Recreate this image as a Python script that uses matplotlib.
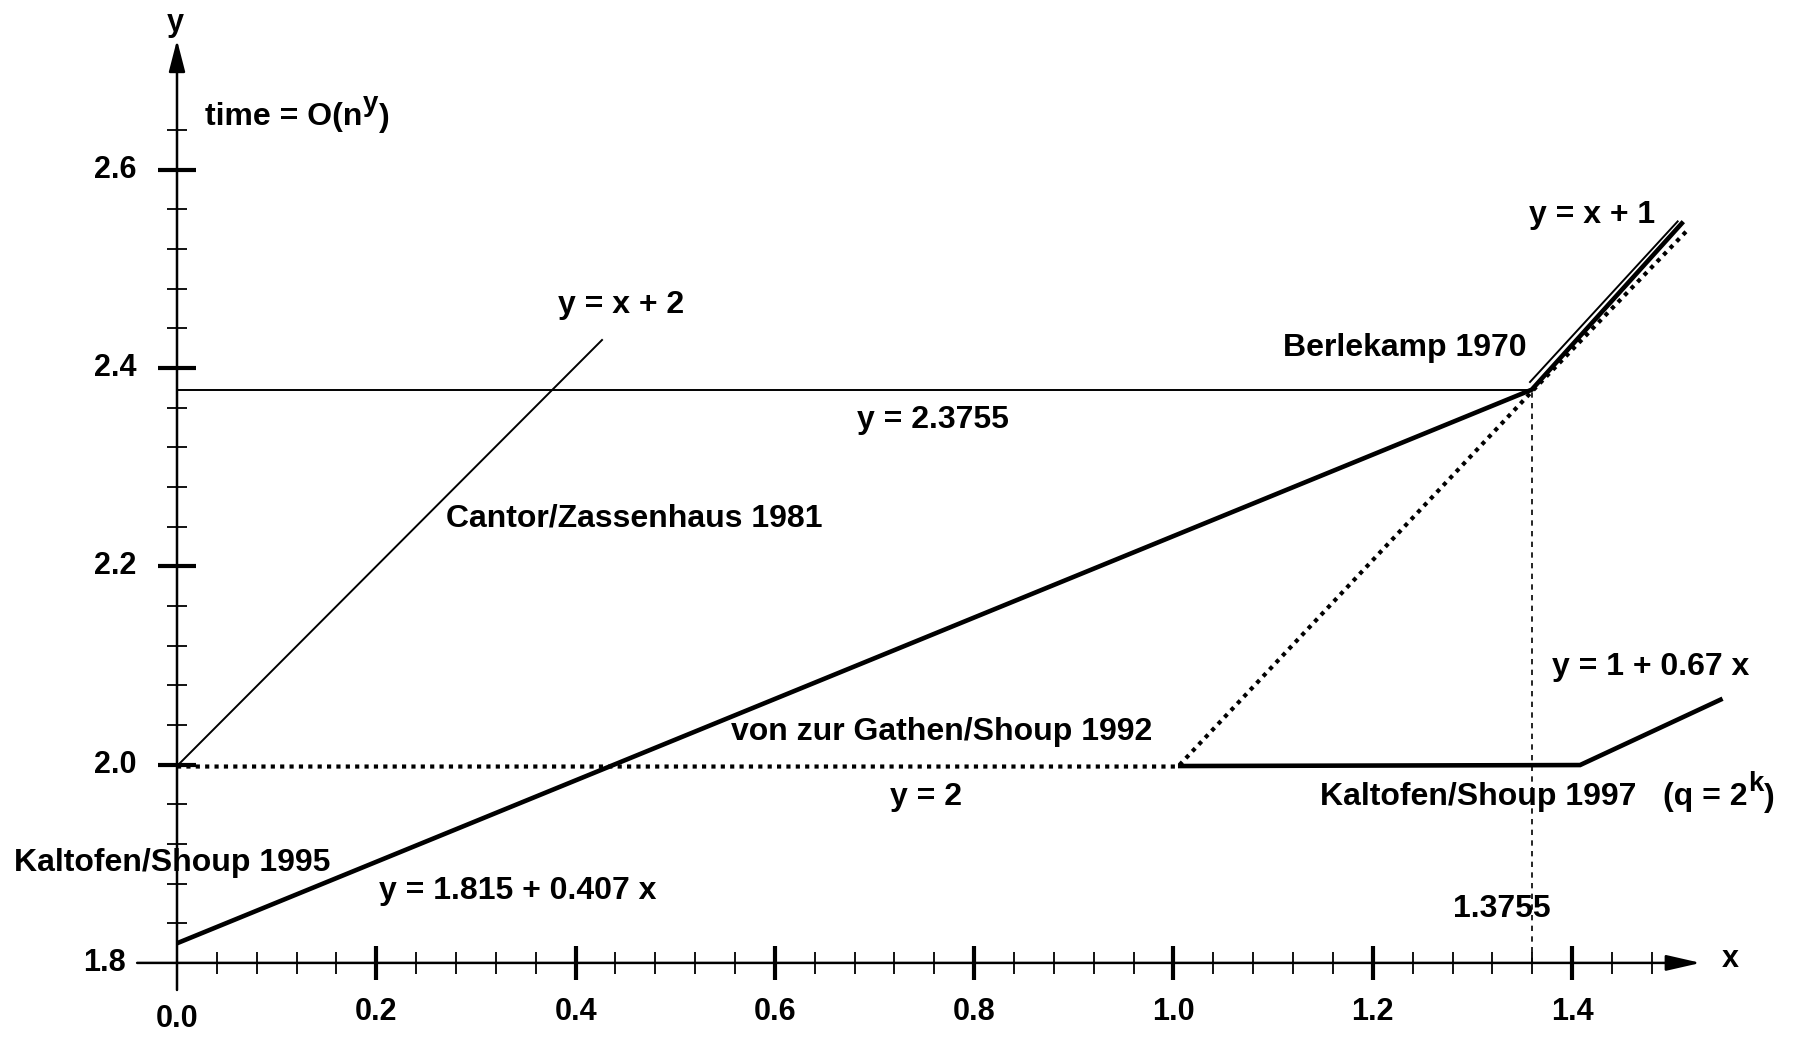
import matplotlib
matplotlib.use("Agg")
import matplotlib.pyplot as plt
import numpy as np

plt.rcParams['font.family'] = ['Liberation Sans', 'DejaVu Sans']
plt.rcParams['font.weight'] = 'bold'

# ---------------- data ----------------
x_major = [0.0, 0.2, 0.4, 0.6, 0.8, 1.0, 1.2, 1.4]
x_major_labels = ["0.0", "0.2", "0.4", "0.6", "0.8", "1.0", "1.2", "1.4"]
x_minor = [round(0.04 * i, 2) for i in range(1, 38) if i % 5 != 0]
y_major = [1.8, 2.0, 2.2, 2.4, 2.6]
y_major_labels = ["1.8", "2.0", "2.2", "2.4", "2.6"]
y_minor = [round(1.8 + 0.04 * i, 2) for i in range(1, 22) if i % 5 != 0]

# Berlekamp 1970 (thin): y = 2.3755, then y = x + 1
berlekamp_x = [0.0, 1.3595]
berlekamp_y = [2.378, 2.378]
berlekamp_tail_x = [1.3571, 1.5066]
berlekamp_tail_y = [2.385, 2.5484]

# Cantor/Zassenhaus 1981 (dotted): y = 2, then y = x + 1
cantor_x = [0.0, 1.0045, 1.3595, 1.5166]
cantor_y = [1.998, 1.998, 2.376, 2.5397]

# Kaltofen/Shoup 1995 (thick): y = 1.815 + 0.407 x, then y = x + 1
ks95_x = [0.0, 1.3595, 1.5116]
ks95_y = [1.8198, 2.378, 2.5474]

# von zur Gathen/Shoup 1992 / Kaltofen/Shoup 1997 (thick)
ks97_x = [1.0045, 1.408, 1.551]
ks97_y = [1.9985, 1.9995, 2.0664]

# y = x + 2 reference line (thin)
ref_x = [0.0, 0.4272]
ref_y = [1.9985, 2.4288]

# crossover marker x = 1.3755 (drawn position)
cross_x = 1.3595
cross_y = 2.376

# ---------------- figure ----------------
fig = plt.figure(figsize=(18.02, 10.40), dpi=100)
ax = fig.add_axes([0, 0, 1, 1])
ax.set_xlim(-0.17762, 1.63071)
ax.set_ylim(1.72226, 2.77091)
ax.axis('off')

K = 'black'
# axes with arrows
ax.annotate('', xy=(1.529, 1.8), xytext=(-0.04, 1.8),
            arrowprops=dict(arrowstyle='-|>,head_length=1.05,head_width=0.24',
                            mutation_scale=20, lw=1.8, color=K,
                            shrinkA=0, shrinkB=0))
ax.annotate('', xy=(0.0, 2.7306), xytext=(0.0, 1.7727),
            arrowprops=dict(arrowstyle='-|>,head_length=0.97,head_width=0.25',
                            mutation_scale=20, lw=1.8, color=K,
                            shrinkA=0, shrinkB=0))

# ticks
ax.plot(x_minor, [1.8] * len(x_minor), ls='none', marker='|', ms=16, mew=1.3, color=K)
ax.plot(x_major[1:], [1.8] * (len(x_major) - 1), ls='none', marker='|', ms=24, mew=3.0, color=K)
ax.plot([0.0] * len(y_minor), y_minor, ls='none', marker='_', ms=14, mew=1.3, color=K)
ax.plot([0.0] * (len(y_major) - 1), y_major[1:], ls='none', marker='_', ms=28, mew=3.0, color=K)

# tick labels
fs_t = 22
for xv, lab in zip(x_major, x_major_labels):
    yy = 1.7434 if xv == 0.0 else 1.7505
    ax.text(xv, yy, lab, ha='center', va='center', fontsize=fs_t, fontweight='bold')
for yv, lab in zip(y_major, y_major_labels):
    xx = -0.0512 if yv == 1.8 else -0.0411
    ax.text(xx, yv, lab, ha='right', va='center', fontsize=fs_t, fontweight='bold')

ax.text(-0.002, 2.7478, 'y', ha='center', va='center', fontsize=fs_t, fontweight='bold')
ax.text(1.5592, 1.8036, 'x', ha='center', va='center', fontsize=fs_t, fontweight='bold')

# curves
ax.plot(ref_x, ref_y, color=K, lw=1.4, solid_capstyle='butt')
ax.plot(berlekamp_x, berlekamp_y, color=K, lw=1.4, solid_capstyle='butt')
ax.plot(berlekamp_tail_x, berlekamp_tail_y, color=K, lw=1.4, solid_capstyle='butt')
ax.plot(cantor_x, cantor_y, color=K, lw=3.0, ls=(0, (1.0, 1.25)), dash_capstyle='butt')
ax.plot(ks95_x, ks95_y, color=K, lw=3.3, solid_capstyle='butt', solid_joinstyle='miter')
ax.plot(ks97_x, ks97_y, color=K, lw=3.3, solid_capstyle='butt', solid_joinstyle='miter')
ax.plot([cross_x, cross_x], [1.8, cross_y], color=K, lw=1.2, ls=(0, (3.2, 3.2)))

# annotations
fs = 23
def lab(x, y, s, ha='center', va='center'):
    return ax.text(x, y, s, ha=ha, va=va, fontsize=fs, fontweight='bold')

def sup_label(x, y, base, sup, tail, raise_pt=10.5, sup_fs=20):
    t1 = ax.text(x, y, base, ha='left', va='baseline', fontsize=fs, fontweight='bold')
    t2 = ax.annotate(sup, xy=(1, 0), xycoords=t1, xytext=(0.5, raise_pt),
                     textcoords='offset points', ha='left', va='bottom',
                     fontsize=sup_fs, fontweight='bold')
    ax.annotate(tail, xy=(1, 0), xycoords=t2, xytext=(0.5, -raise_pt - 0.6),
                textcoords='offset points', ha='left', va='bottom',
                fontsize=fs, fontweight='bold')

sup_label(0.0281, 2.6449, 'time = O(n', 'y', ')')
lab(0.3823, 2.4634, 'y = x + 2', ha='left')
lab(1.1096, 2.42, 'Berlekamp 1970', ha='left')
lab(0.7587, 2.3479, 'y = 2.3755')
lab(0.4586, 2.2486, 'Cantor/Zassenhaus 1981')
lab(0.7677, 2.0328, 'von zur Gathen/Shoup 1992')
lab(0.7516, 1.9668, 'y = 2')
lab(-0.1636, 1.9007, 'Kaltofen/Shoup 1995', ha='left')
lab(0.3422, 1.8729, 'y = 1.815 + 0.407 x')
lab(1.3296, 1.8543, '1.3755')
lab(1.42, 2.5541, 'y = x + 1')
lab(1.4792, 2.0984, 'y = 1 + 0.67 x')
sup_label(1.147, 1.9594, 'Kaltofen/Shoup 1997   (q = 2', 'k', ')')

fig.savefig('out.png', dpi=100)
